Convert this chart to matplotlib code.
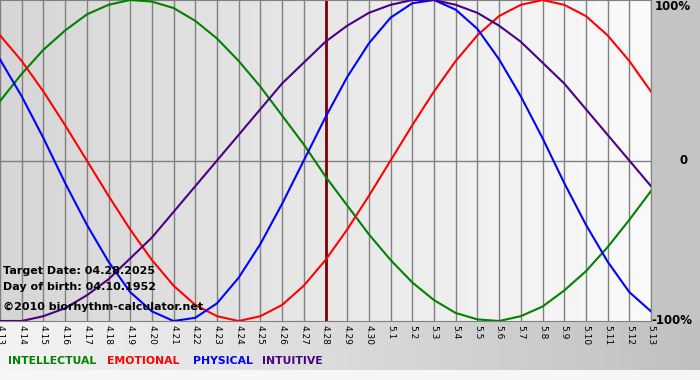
import matplotlib
matplotlib.use("Agg")
import matplotlib.pyplot as plt
import numpy as np

# day labels 4.13 .. 5.13
day_labels = ["4.%d" % d for d in range(13, 31)] + ["5.%d" % d for d in range(1, 14)]
target_idx = 15  # 4.28

physical = [0.63, 0.40, 0.14, -0.14, -0.40, -0.63, -0.82, -0.94, -1.00, -0.98,
            -0.89, -0.73, -0.52, -0.27, 0.00, 0.27, 0.52, 0.73, 0.89, 0.98,
            1.00, 0.94, 0.82, 0.63, 0.40, 0.14, -0.14, -0.40, -0.63, -0.82, -0.94]
emotional = [0.78, 0.62, 0.43, 0.22, 0.00, -0.22, -0.43, -0.62, -0.78, -0.90,
             -0.97, -1.00, -0.97, -0.90, -0.78, -0.62, -0.43, -0.22, 0.00, 0.22,
             0.43, 0.62, 0.78, 0.90, 0.97, 1.00, 0.97, 0.90, 0.78, 0.62, 0.43]
intellectual = [0.37, 0.54, 0.69, 0.81, 0.91, 0.97, 1.00, 0.99, 0.95, 0.87,
                0.76, 0.62, 0.46, 0.28, 0.10, -0.10, -0.28, -0.46, -0.62, -0.76,
                -0.87, -0.95, -0.99, -1.00, -0.97, -0.91, -0.81, -0.69, -0.54, -0.37, -0.19]
intuitive = [-1.00, -1.00, -0.97, -0.92, -0.84, -0.74, -0.61, -0.48, -0.32, -0.16,
             0.00, 0.16, 0.32, 0.48, 0.61, 0.74, 0.84, 0.92, 0.97, 1.00,
             1.00, 0.97, 0.92, 0.84, 0.74, 0.61, 0.48, 0.32, 0.16, 0.00, -0.16]

series_names = ["INTELLECTUAL", "EMOTIONAL", "PHYSICAL", "INTUITIVE"]
series_colors = ["#008000", "#ff0000", "#0000ff", "#4b0082"]
series_values = [intellectual, emotional, physical, intuitive]

W, H = 700, 380
fig = plt.figure(figsize=(W / 100, H / 100), dpi=100)
fig.patch.set_facecolor("#c4c4c4")

# bottom strip gradient (labels / legend area) and white strip below it
grad = np.linspace(0, 1, 256).reshape(1, -1)
bg = fig.add_axes([0, 10 / H, 1, 49 / H])
bg.imshow(grad, aspect="auto", cmap=matplotlib.colors.LinearSegmentedColormap.from_list(
    "b", ["#f4f4f4", "#c0c0c0"]), extent=[0, 1, 0, 1])
bg.set_axis_off()
fig.patches.append(matplotlib.patches.Rectangle((0, 0), 1, 10 / H, transform=fig.transFigure,
                                                 facecolor="#f6f6f6", edgecolor="none", zorder=-1))

ax = fig.add_axes([0, 1 - 321 / H, 651 / W, 321 / H])
x = np.arange(len(day_labels))
ax.imshow(grad, aspect="auto", cmap=matplotlib.colors.LinearSegmentedColormap.from_list(
    "p", ["#d6d6d6", "#fafafa"]), extent=[0, len(x) - 1, -1.0, 1.0], zorder=0)

for xi in x:
    ax.axvline(xi, color="#808080", lw=1, zorder=1)
ax.axhline(0, color="#808080", lw=1, zorder=1)
ax.axvline(target_idx, color="#7a0000", lw=2, zorder=1)

for vals, col in zip(series_values, series_colors):
    ax.plot(x, vals, color=col, lw=1.5, zorder=3, solid_joinstyle="round")

ax.set_xlim(0, len(x) - 1)
ax.set_ylim(-1.0, 1.0)
ax.set_yticks([])
ax.set_xticks(x)
ax.set_xticklabels(day_labels, rotation=270, fontsize=6.5, va="top", ha="center")
ax.tick_params(axis="x", length=0, pad=3)
for sp in ax.spines.values():
    sp.set_color("#808080")

# right side percent labels
fig.text(655 / W, 1 - 7 / H, "100%", fontsize=8.5, fontweight="bold", va="center", ha="left")
fig.text(680 / W, 1 - 161 / H, "0", fontsize=8.5, fontweight="bold", va="center", ha="left")
fig.text(651 / W, 1 - 321 / H, "-100%", fontsize=8.5, fontweight="bold", va="center", ha="left")

# info texts
fig.text(3 / W, 1 - 271 / H, "Target Date: 04.28.2025", fontsize=8, fontweight="bold", va="center")
fig.text(3 / W, 1 - 287 / H, "Day of birth: 04.10.1952", fontsize=8, fontweight="bold", va="center")
fig.text(3 / W, 1 - 307 / H, "\u00a92010 biorhythm-calculator.net", fontsize=8, fontweight="bold", va="center")

# legend
legend_x = [8, 107, 193, 262]
for name, col, lx in zip(series_names, series_colors, legend_x):
    fig.text(lx / W, 1 - 361 / H, name, fontsize=7.8, fontweight="bold", color=col, va="center")

fig.savefig("out.png", dpi=100, facecolor=fig.get_facecolor())
